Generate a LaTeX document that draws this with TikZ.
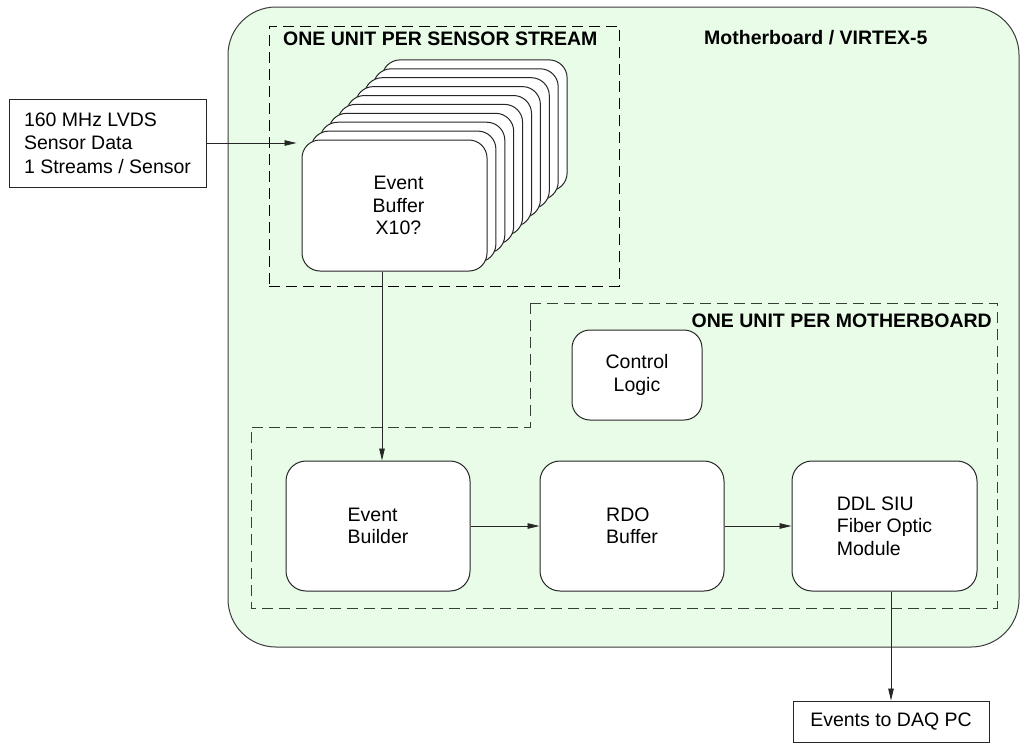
\documentclass[tikz,border=0pt]{standalone}
\usepackage{fontspec}
\setmainfont{Liberation Sans}
\usetikzlibrary{arrows.meta}
\definecolor{mbfill}{RGB}{232,252,232}
\definecolor{mbline}{RGB}{60,60,60}
\definecolor{dashgray}{RGB}{55,62,55}
\begin{document}
\begin{tikzpicture}[x=1pt,y=-1pt,
  every node/.style={font=\fontsize{19.5}{22.5}\selectfont},
  rbox/.style={draw=black!85, fill=white, rounded corners=18pt, line width=1pt, inner sep=0pt},
  sqbox/.style={draw=black!85, fill=white, line width=1pt, inner sep=0pt},
  arr/.style={-{Triangle[length=12pt,width=5.5pt]}, line width=0.9pt, draw=black!85, fill=black!85},
  ttl/.style={font=\fontsize{19.5}{22.5}\selectfont\bfseries, inner sep=0pt},
  dbox/.style={line width=0.9pt, dash pattern=on 11pt off 6pt}
]
\useasboundingbox (0,0) rectangle (1024,745);

% motherboard
\node[draw=mbline, fill=mbfill, rounded corners=48pt, line width=1pt,
      minimum width=791pt, minimum height=640pt, inner sep=0pt] (mb) at (623.5,327) {};
\node[ttl, anchor=base west] (mbtitle) at (704,44) {Motherboard / VIRTEX-5};

% sensor-stream unit
\node[draw=black, dbox, minimum width=350pt, minimum height=260pt, inner sep=0pt] (ss) at (444,156) {};
\node[ttl, anchor=base west] (sstitle) at (283,45) {ONE UNIT PER SENSOR STREAM};

% motherboard unit (L-shaped)
\draw[dbox, draw=dashgray] (530,303) -- (997,303) -- (997,608) -- (251,608) -- (251,427) -- (530,427) -- cycle;
\node[ttl, anchor=base east] (mutitle) at (992,327) {ONE UNIT PER MOTHERBOARD};

% event buffer stack
\foreach \k in {9,8,...,1}
  \node[rbox, minimum width=185pt, minimum height=131pt] (buf\k) at ({394.5+8.9*\k},{205.5-8.9*\k}) {};
\node[rbox, minimum width=185pt, minimum height=131pt, align=center] (buf) at (394.5,205.5) {\hspace*{8pt}Event\\\hspace*{8pt}Buffer\\\hspace*{8pt}X10?};

% input
\node[sqbox, minimum width=197pt, minimum height=88pt, align=left,
      font=\fontsize{19.5}{23.5}\selectfont] (in) at (107.5,143) {160 MHz LVDS\\Sensor Data\\1 Streams / Sensor};

% control logic
\node[rbox, minimum width=130pt, minimum height=90pt, align=center] (ctl) at (637,375) {Control\\Logic};

% pipeline
\node[rbox, rounded corners=20pt, minimum width=184pt, minimum height=130pt, align=left] (eb) at (378,526) {Event\\Builder};
\node[rbox, rounded corners=20pt, minimum width=184pt, minimum height=130pt, align=left] (rdo) at (632,526) {RDO\\Buffer};
\node[rbox, rounded corners=20pt, minimum width=185pt, minimum height=130pt, align=left] (ddl) at (884.5,526) {DDL SIU\\Fiber Optic\\Module};

% output
\node[sqbox, minimum width=196pt, minimum height=41pt] (daq) at (891,721.5) {Events to DAQ PC};

% connectors
\draw[arr, shorten >=5pt] (in.east) -- (in.east -| buf.west);
\draw[arr] ([xshift=4pt]eb.north |- buf.south) -- ([xshift=4pt]eb.north);
\draw[arr] (eb.east) -- (rdo.west);
\draw[arr] (rdo.east) -- (ddl.west);
\draw[arr] (daq.north |- ddl.south) -- (daq.north);
\end{tikzpicture}
\end{document}
